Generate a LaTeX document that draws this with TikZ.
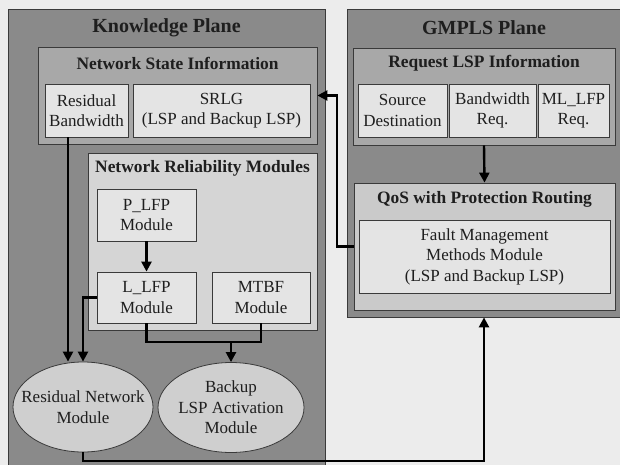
\documentclass[tikz,border=0pt]{standalone}
\usepackage{fontspec}
\setmainfont{Liberation Serif}
\usetikzlibrary{arrows.meta,shapes.geometric}
\definecolor{bgc}{HTML}{ECECEC}
\definecolor{planec}{HTML}{8A8A8A}
\definecolor{nsic}{HTML}{A8A8A8}
\definecolor{nrmc}{HTML}{D5D5D5}
\definecolor{inc}{HTML}{E4E4E4}
\definecolor{ellc}{HTML}{CFCFCF}
\definecolor{qosc}{HTML}{CACACA}
\definecolor{edgec}{HTML}{3A3A3A}
\definecolor{txtc}{HTML}{1E1E1E}
\begin{document}
\begin{tikzpicture}[x=1pt,y=-1pt,
  every node/.style={text=txtc, inner sep=0pt, align=center},
  plane/.style={draw=edgec, line width=0.8pt, fill=planec, rectangle},
  midbox/.style={draw=edgec, line width=0.8pt, fill=#1, rectangle},
  inbox/.style={draw=edgec, line width=0.8pt, fill=inc, rectangle, font=\fontsize{17}{20.5}\selectfont},
  ellbox/.style={draw=edgec, line width=0.8pt, fill=ellc, ellipse, inner xsep=-20pt, inner ysep=0pt, font=\fontsize{17}{20.5}\selectfont},
  ptitle/.style={font=\fontsize{20}{24}\selectfont\bfseries},
  stitle/.style={font=\fontsize{17.4}{20}\selectfont\bfseries},
  conn/.style={draw=black, line width=2.4pt},
  arr/.style={conn, -{Triangle[width=10pt,length=10pt]}}
]
\useasboundingbox (0,0) rectangle (620,465);
\fill[bgc] (0,0) rectangle (620,465);

% planes
\node[plane, minimum width=317, minimum height=457] (kp) at (166.5,237.5) {};
\node[plane, minimum width=274, minimum height=308] (gmpls) at (484,163) {};
\node[ptitle] (kpt) at (166.5,28) {Knowledge Plane};
\node[ptitle] (gmt) at (484,28) {GMPLS Plane};

% Network state information
\node[midbox=nsic, minimum width=279, minimum height=97] (nsi) at (177.5,95.5) {};
\node[stitle] (nsit) at (177.5,63) {Network State Information};
\node[inbox, minimum width=83, minimum height=53] (rb) at (86.5,110.5) {Residual\\Bandwidth};
\node[inbox, minimum width=177, minimum height=53] (srlg) at (221.5,110.5) {SRLG\\(LSP and Backup LSP)};

% Network reliability modules
\node[midbox=nrmc, minimum width=229, minimum height=177] (nrm) at (202.5,241.5) {};
\node[stitle] (nrmt) at (202.5,168) {Network Reliability Modules};
\node[inbox, minimum width=99, minimum height=52] (plfp) at (146.5,215) {P\_LFP\\Module};
\node[inbox, minimum width=99, minimum height=51] (llfp) at (146.5,297.5) {L\_LFP\\Module};
\node[inbox, minimum width=98, minimum height=51] (mtbf) at (261,297.5) {MTBF\\Module};

% ellipses
\node[ellbox, minimum width=140, minimum height=90] (rnm) at (83,407) {Residual Network\\Module};
\node[ellbox, minimum width=146, minimum height=90] (bla) at (231,407.5) {Backup\\LSP Activation\\Module};

% GMPLS side
\node[midbox=nsic, minimum width=262, minimum height=97] (rli) at (484,96.5) {};
\node[stitle] (rlit) at (484,63) {Request LSP Information};
\node[inbox, minimum width=89, minimum height=53] (sd) at (402.5,110.5) {Source\\Destination};
\node[inbox, minimum width=87, minimum height=53] (br) at (492.5,110.5) {Bandwidth\\Req.};
\node[inbox, minimum width=71, minimum height=53] (ml) at (573.5,110.5) {ML\_LFP\\Req.};

\node[midbox=qosc, minimum width=261, minimum height=127] (qos) at (484.5,246.5) {};
\node[stitle] (qost) at (484.5,199) {QoS with Protection Routing};
\node[inbox, minimum width=251, minimum height=73] (fm) at (484.5,256.5) {Fault Management\\Methods Module\\(LSP and Backup LSP)};

% helper coordinates
\coordinate (c1) at (68,0);
\coordinate (j) at (231,342);
\coordinate (k) at (337,0);
\coordinate (b) at (0,461);

% connectors
\draw[arr] (rb.south -| c1) -- (rnm.north -| c1);
\draw[arr] (llfp.west) -| (rnm.north);
\draw[arr] (plfp.south) -- (llfp.north);
\draw[conn] (llfp.south) |- (j) -| (mtbf.south);
\draw[arr] (j) -- (bla.north);
\draw[arr] (rli.south) -- (qos.north);
\draw[arr] (qos.west) -- (qos.west -| k) |- (nsi.east);
\draw[arr] (rnm.south) -- (rnm.south |- b) -| (gmpls.south);
\end{tikzpicture}
\end{document}
